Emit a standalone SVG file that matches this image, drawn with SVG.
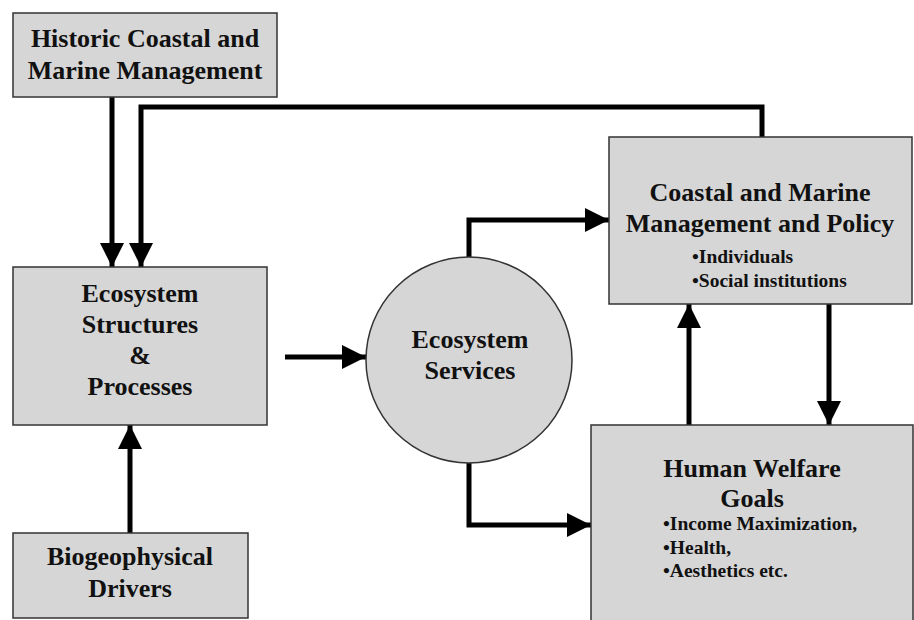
<svg xmlns="http://www.w3.org/2000/svg" width="914" height="620" viewBox="0 0 914 620">
<style>
.box{fill:#d6d6d6;stroke:#333;stroke-width:1.5}
.t{font-family:"Liberation Serif","Times New Roman",serif;font-weight:bold;font-size:26px;fill:#111;text-anchor:middle}
.b{font-family:"Liberation Serif","Times New Roman",serif;font-weight:bold;font-size:19.5px;fill:#111}
.c{fill:none;stroke:#000;stroke-width:5;marker-end:url(#ah)}
</style>
<defs>
<marker id="ah" markerUnits="userSpaceOnUse" markerWidth="24" markerHeight="24" refX="24" refY="12" orient="auto">
<path d="M0,0 L24,12 L0,24 z" fill="#000"/>
</marker>
</defs>
<rect width="914" height="620" fill="#fff"/>
<g id="connectors">
<path class="c" d="M112,97 V267"/>
<path class="c" d="M762,137 V107 H141 V267"/>
<path class="c" d="M130,533 V425"/>
<path class="c" d="M285,357 H366"/>
<path class="c" d="M469,259 V220 H609"/>
<path class="c" d="M469,462 V525 H591"/>
<path class="c" d="M689,425 V304"/>
<path class="c" d="M829,304 V425"/>
</g>
<g id="historic">
<rect class="box" x="13" y="13" width="264" height="84"/>
<text class="t" x="145" y="47">Historic Coastal and</text>
<text class="t" x="145" y="79">Marine Management</text>
</g>
<g id="ecosystem-structures">
<rect class="box" x="13" y="267" width="254" height="158"/>
<text class="t" x="140" y="302">Ecosystem</text>
<text class="t" x="140" y="333">Structures</text>
<text class="t" x="140" y="364">&amp;</text>
<text class="t" x="140" y="395">Processes</text>
</g>
<g id="biogeophysical">
<rect class="box" x="13" y="533" width="235" height="85"/>
<text class="t" x="130" y="565">Biogeophysical</text>
<text class="t" x="130" y="597">Drivers</text>
</g>
<g id="ecosystem-services">
<circle class="box" cx="469" cy="360" r="103"/>
<text class="t" x="470" y="348">Ecosystem</text>
<text class="t" x="470" y="379">Services</text>
</g>
<g id="management-policy">
<rect class="box" x="609" y="137" width="303" height="167"/>
<text class="t" x="760" y="201">Coastal and Marine</text>
<text class="t" x="760" y="232">Management and Policy</text>
<text class="b" x="692" y="263">•Individuals</text>
<text class="b" x="692" y="287">•Social institutions</text>
</g>
<g id="human-welfare">
<rect class="box" x="591" y="425" width="322" height="200"/>
<text class="t" x="752" y="477">Human Welfare</text>
<text class="t" x="752" y="507">Goals</text>
<text class="b" x="663" y="530">•Income Maximization,</text>
<text class="b" x="663" y="554">•Health,</text>
<text class="b" x="663" y="577">•Aesthetics etc.</text>
</g>
</svg>
